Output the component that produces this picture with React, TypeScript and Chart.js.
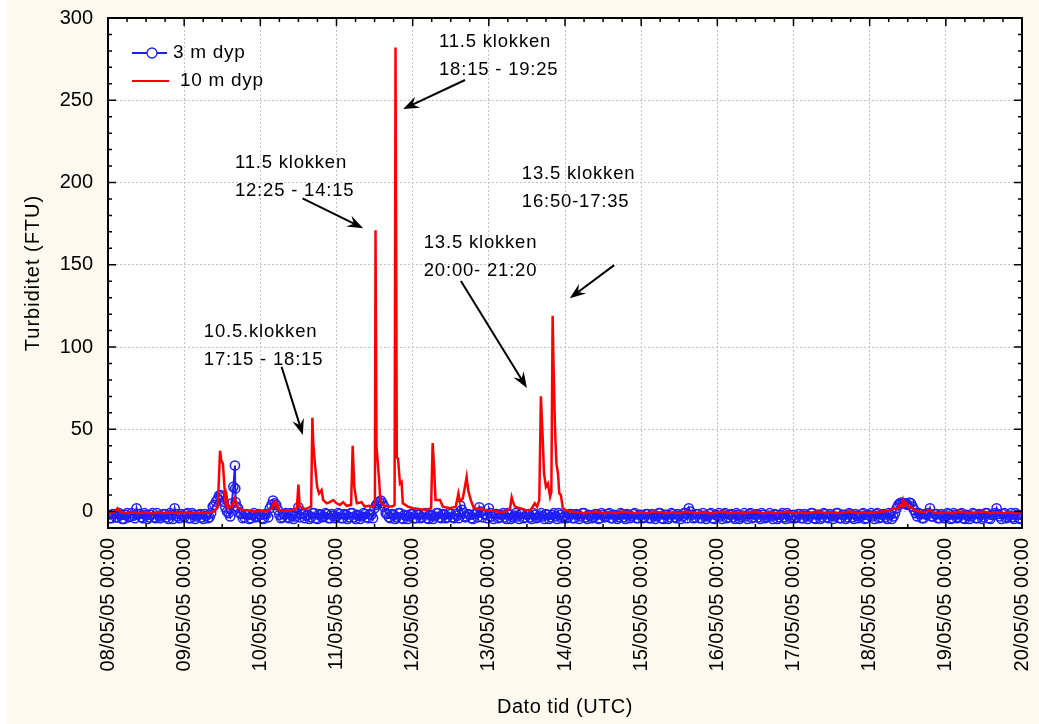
import { useEffect, useRef } from 'react';
import { Chart, registerables } from 'chart.js';

Chart.register(...registerables);

const FONT = '"Liberation Sans", Arial, Helvetica, sans-serif';

// ---------- axes ----------
const X_MIN_H = 0;
const X_MAX_H = 288; // hours after 08/05/05 00:00
const Y_MIN = -10;
const Y_MAX = 300;
const dayTickHours = [0, 24, 48, 72, 96, 120, 144, 168, 192, 216, 240, 264, 288];
const dayTickLabels = [
  '08/05/05 00:00', '09/05/05 00:00', '10/05/05 00:00', '11/05/05 00:00',
  '12/05/05 00:00', '13/05/05 00:00', '14/05/05 00:00', '15/05/05 00:00',
  '16/05/05 00:00', '17/05/05 00:00', '18/05/05 00:00', '19/05/05 00:00',
  '20/05/05 00:00',
];
const xTitle = 'Dato tid (UTC)';
const yTitle = 'Turbiditet (FTU)';
const seriesNames = ['3 m dyp', '10 m dyp'];

// ---------- 3 m dyp: readings on the full hour (h = 0 .. 288) ----------
const turb3m = [
  // 08/05
  -2, -4, -1.5, -3.5, -2, -4.5, -1, -3, -2.5, 2, -1.5, -4, -2, -3.5, -1, -4, -2.5, -3, -1.5, -4.5, -2, 2, -3, -1.5,
  // 09/05
  -3.5, -1, -4, -2, -3, -1.5, -4.5, -2.5, -3.5, 3, 6, 9.7, 8.7, 2.5, -1, 5, 28, 2, -1.5, -3.5, -2, -4, -1, -3,
  // 10/05
  -2, -4.5, -1.5, 2, 6.7, 4, -2, -3.5, -1, -4, -2.5, -3, 2.6, -1.5, -4, -2, -3.5, -1, -4.5, -2, -3, -1.5, -4, -2.5,
  // 11/05
  -3, -1.5, -4, -2, -3.5, -1, -4.5, -2.5, -3, -1.5, -4, -2, 2, 5, 6.7, 3, -1.5, -4, -2, -3.5, -1, -4.5, -2.5, -3,
  // 12/05
  -1.5, -4, -2, -3.5, -1, -4.5, -2.5, -3, -1, -4, -2, -3.5, -1.5, -4, -2.5, 3.6, -1, -3, -2, -4.5, -1.5, 2.6, -3.5, -2,
  // 13/05
  2, -3, -1.5, -4, -2, -3.5, -1, -4.5, -2.5, -3, -1.5, -4, -2, -3.5, -1, -4, -2.5, -3, -1.5, -4.5, -2, -3, -1, -4,
  // 14/05
  -2.5, -3.5, -1.5, -4, -2, -3, -1, -4.5, -2.5, -3.5, -1.5, -4, -2, -3, -1, -4, -2.5, -3.5, -1.5, -4.5, -2, -3, -1, -4,
  // 15/05
  -2, -3.5, -1.5, -4, -2.5, -3, -1, -4.5, -2, -3.5, -1.5, -4, -2.5, -3, -1, 2, -2, -3.5, -1.5, -4, -2.5, -3, -1, -4.5,
  // 16/05
  -2.5, -3, -1.5, -4, -2, -3.5, -1, -4.5, -2.5, -3, -1.5, -4, -2, -3.5, -1, -4, -2.5, -3, -1.5, -4.5, -2, -3.5, -1, -4,
  // 17/05
  -2, -3.5, -1.5, -4, -2.5, -3, -1, -4.5, -2, -3.5, -1.5, -4, -2.5, -3, -1, -4, -2, -3.5, -1.5, -4.5, -2.5, -3, -1, -4,
  // 18/05
  -2.5, -3, -1.5, -4, -2, -3.5, -1, -4.5, -1, 4, 5.5, 5, 4, 5, 1, -3, -1.5, -4, -2, 2, -3, -1.5, -4, -2.5,
  // 19/05
  -3, -1.5, -4, -2, -3.5, -1, -4.5, -2.5, -3, -1.5, -4, -2, -3.5, -1, -4.5, -2, 2, -3, -1.5, -4, -2.5, -3.5, -1, -4,
  // 20/05
  -2,
];
// ---------- 3 m dyp: readings on the half hour (h = 0.5 .. 287.5) ----------
const turb3mHalf = [
  // 08/05
  -4, -1.5, -3.5, -1, -4.5, -2, -3.5, -1, -4, -1.5, -3.5, -1, -4.5, -2, -3.5, -1, -4, -1.5, -3.5, -1, -4.5, -1.5, -4, -2.5,
  // 09/05
  -1.5, -4, -1, -4.5, -2, -3.5, -1.5, -4, -1, 4, 7.5, 10, 6, 0, -3, 15, 3, -1, -4, -1.5, -4.5, -2, -3.5, -1.5,
  // 10/05
  -4, -1.5, -3.5, 4, 5, 1, -4, -1.5, -3.5, -1, -4.5, -1, -3.5, -1, -2.5, -4.5, -1, -4, -1.5, -3.5, -1, -4, -1.5, -4,
  // 11/05
  -1, -4, -1.5, -4.5, -1, -3.5, -2, -4.5, -1, -3.5, -1.5, -4, 4, 6, 5, -1, -3.5, -1.5, -4.5, -1, -4, -2, -4.5, -1.5,
  // 12/05
  -4, -1.5, -4, -1.5, -4, -2, -4.5, -1, -3.5, -1.5, -4, -1, -3.5, -1.5, -4, 1, -3.5, -1.5, -4, -1.5, -3.5, 0, -1.5, -4,
  // 13/05
  -1, -4.5, -1.5, -3.5, -1, -4.5, -2, -3.5, -1, -4.5, -1, -3.5, -1.5, -4.5, -2, -3.5, -1, -4.5, -2, -3.5, -1, -4.5, -2, -3.5,
  // 14/05
  -4, -1.5, -4, -1.5, -4.5, -1, -3.5, -2, -4, -1.5, -4.5, -1, -3.5, -1.5, -4, -2, -4.5, -1, -3.5, -1.5, -4, -1.5, -4, -2,
  // 15/05
  -4, -1.5, -4, -1.5, -4.5, -1, -4, -2, -4.5, -1, -3.5, -1.5, -4.5, -1, -4, 0, -4, -1.5, -4, -1, -4.5, -1.5, -4, -2,
  // 16/05
  -1, -4.5, -1, -3.5, -1.5, -4.5, -2, -3.5, -1, -4.5, -1, -3.5, -1.5, -4.5, -2, -3.5, -1, -4.5, -2, -3.5, -1, -4.5, -2, -3.5,
  // 17/05
  -4, -1.5, -4, -1.5, -4.5, -1, -4, -2, -4.5, -1, -3.5, -1.5, -4.5, -1, -4, -2, -4.5, -1, -3.5, -1.5, -4, -1.5, -4.5, -2,
  // 18/05
  -1, -4.5, -1, -3.5, -1.5, -4.5, -2, -3, 2, 5, 5, 4.5, 5.5, 3, -1, -1, -4, -1.5, -1, -3, -1.5, -4, -1.5, -4,
  // 19/05
  -1, -4.5, -1, -4, -1.5, -4, -2, -4.5, -1, -4, -1.5, -4.5, -1, -4, -2, -1, -1.5, -4.5, -1, -3.5, -1, -4.5, -2, -4.5,
];
// extra (sub-half-hour) 3 m readings on 09/05 afternoon
const turb3mExtraHours = [40.1, 40.2];
const turb3mExtraValues = [14, 5.7];

// ---------- 10 m dyp: [hours, FTU] ----------
const turb10m: [number, number][] = [
  [0, -1], [2, -0.5], [3, 2], [4, -0.5], [6, -1], [8, -0.5], [10, -1], [12, -0.5], [14, -1], [16, -0.5],
  [18, -1], [20, -0.5], [22, -1], [24, -0.5], [26, -1], [28, -0.5], [30, -1], [32, -0.5], [33.5, 0],
  [34.6, 3], [35.3, 37], [35.7, 31], [36.2, 29], [36.7, 15], [37.1, 5], [37.4, 9], [37.9, 2], [39.1, 3],
  [40, 8], [40.5, 3], [42.2, 1], [44.7, 0.5], [46, 0], [48, 0.5],
  [50, 0], [51.7, 2], [52.3, 5.7], [52.9, 3], [53.2, 5], [53.9, 1], [55.5, 0.5], [57.3, 0.5], [59.5, 2],
  [60, 16.4], [60.4, 3], [62.1, 1.5], [64, 3], [64.4, 57], [64.7, 41], [65.2, 29], [65.9, 15], [66.5, 11],
  [67.3, 13], [67.8, 7], [68.9, 5], [69.9, 5.7], [71, 7], [72, 5],
  [73, 4], [74.1, 5.7], [75.2, 3.5], [76.6, 4], [77.1, 40], [77.6, 15], [78.4, 5], [79.9, 5.7], [80.9, 3],
  [82.2, 3.5], [83.6, 3], [84.1, 5], [84.3, 171], [84.6, 40], [84.9, 32], [85.4, 20], [85.8, 7], [86.6, 4],
  [88.2, 3], [89.5, 3], [90.3, 4], [90.6, 282], [91.0, 33], [91.4, 32], [92.0, 17], [92.5, 18], [92.9, 5],
  [94.5, 3], [96.1, 2],
  [98, 1.5], [99.9, 1], [101.8, 2], [102.3, 41.6], [102.8, 25], [103.2, 7], [104.6, 7], [105.5, 3],
  [107.8, 2], [109.6, 3], [110.4, 11], [110.9, 6], [111.8, 8], [113, 21], [113.5, 13], [114.3, 7],
  [115.3, 2], [117, 1.5], [118.8, 1], [120, 0.5],
  [121.9, 0.5], [123.5, -0.5], [125.1, 0], [126.7, 2], [127.2, 8.7], [127.6, 6], [128.2, 3], [129.8, 2],
  [131.5, 1], [133, 0.5], [134.5, 5], [135.2, 3], [135.9, 7], [136.4, 70], [136.9, 48], [137.4, 23],
  [138, 15], [138.6, 17], [139.3, 9], [139.7, 12], [140.1, 119], [140.4, 88], [140.8, 55], [141, 43],
  [141.3, 29], [141.8, 23], [142.2, 11], [142.7, 10], [143.3, 2], [144.6, 0.5],
  [146, 0], [148, -0.5], [150, -1], [152, -0.5], [154, 0], [156, -1], [158, -0.5], [160, -1], [162, 0],
  [164, -0.5], [166, -1], [168, -0.5], [170, -1], [172, 0], [174, -0.5], [176, -1], [178, -0.5], [180, -1],
  [182, 0], [184, -0.5], [186, -1], [188, -0.5], [190, -1], [192, -0.5], [194, 0], [196, -1], [198, -0.5],
  [200, -1], [202, -0.5], [204, 0], [206, -1], [208, -0.5], [210, -1], [212, -0.5], [214, 0], [216, -1],
  [218, -0.5], [220, -1], [222, -0.5], [224, 0], [226, -1], [228, -0.5], [230, -1], [232, -0.5], [234, 0],
  [236, -1], [238, -0.5], [240, -1], [242, -0.5], [244, 0], [246, 0.5], [247.5, 2], [248.5, 1.5],
  [249.5, 4], [250.3, 3], [250.6, 6.7], [251, 4], [251.6, 5], [252.3, 2.5], [253, 3], [254, 1], [255.5, 0],
  [257, -0.5], [259, 1], [260, -0.5], [262, -1], [264, -0.5], [266, -1], [268, 0], [270, -0.5], [272, -1],
  [274, -0.5], [276, 0], [278, -1], [280, -0.5], [282, -1], [284, -0.5], [286, -1], [288, -0.5],
];

// ---------- annotations (data coordinates: hours, FTU) ----------
const noteLines = [
  ['11.5 klokken', '18:15 - 19:25'],
  ['11.5 klokken', '12:25 - 14:15'],
  ['13.5 klokken', '16:50-17:35'],
  ['13.5 klokken', '20:00- 21:20'],
  ['10.5.klokken', '17:15 - 18:15'],
];
const noteAnchors: [number, number][] = [
  [104.3, 285.4], [40, 211.7], [130.4, 205.2], [99.5, 163.2], [30.2, 109.3],
];
const arrowFrom: [number, number][] = [
  [112.5, 262.3], [61.3, 190.4], [159.5, 149.8], [111.2, 140.1], [54.7, 88.0],
];
const arrowTo: [number, number][] = [
  [93.0, 244.7], [80.4, 172.2], [145.5, 129.6], [132.0, 75.1], [61.4, 46.5],
];

const BLUE = '#1e1ef5';
const RED = '#ff0000';
const CREAM = '#fdf9ee';

function drawArrow(ctx: CanvasRenderingContext2D, x1: number, y1: number, x2: number, y2: number) {
  const ang = Math.atan2(y2 - y1, x2 - x1);
  const L = 16;
  const W = 6;
  const c = Math.cos(ang);
  const s = Math.sin(ang);
  const bx = x2 - L * c;
  const by = y2 - L * s;
  ctx.beginPath();
  ctx.moveTo(x1, y1);
  ctx.lineTo(x2 - 8 * c, y2 - 8 * s);
  ctx.stroke();
  ctx.beginPath();
  ctx.moveTo(x2, y2);
  ctx.lineTo(bx + W * s, by - W * c);
  ctx.lineTo(x2 - 0.65 * L * c, y2 - 0.65 * L * s);
  ctx.lineTo(bx - W * s, by + W * c);
  ctx.closePath();
  ctx.fill();
}

const decorPlugin = {
  id: 'decor',
  beforeDraw(chart: any) {
    const { ctx, chartArea: a, width, height } = chart;
    ctx.save();
    ctx.fillStyle = CREAM;
    ctx.fillRect(0, 0, width, height);
    ctx.fillStyle = '#ffffff';
    ctx.fillRect(a.left, a.top, a.right - a.left, a.bottom - a.top);
    ctx.restore();
  },
  afterDraw(chart: any) {
    const { ctx, chartArea: a, scales } = chart;
    const x = scales.x;
    const y = scales.y;
    ctx.save();
    // frame
    ctx.strokeStyle = '#000';
    ctx.lineWidth = 2;
    ctx.strokeRect(a.left, a.top, a.right - a.left, a.bottom - a.top);
    // tick marks (inward)
    ctx.lineWidth = 1.5;
    ctx.beginPath();
    for (let h = X_MIN_H; h <= X_MAX_H; h += 6) {
      const px = x.getPixelForValue(h);
      const major = h % 24 === 0;
      ctx.moveTo(px, a.top);
      ctx.lineTo(px, a.top + (major ? 8 : 4));
      if (h % 12 === 0) {
        ctx.moveTo(px, a.bottom);
        ctx.lineTo(px, a.bottom - (major ? 8 : 4));
      }
    }
    for (let v = Y_MIN; v <= Y_MAX; v += 10) {
      const py = y.getPixelForValue(v);
      const len = v % 50 === 0 ? 8 : 4;
      ctx.moveTo(a.left, py);
      ctx.lineTo(a.left + len, py);
      ctx.moveTo(a.right, py);
      ctx.lineTo(a.right - len, py);
    }
    ctx.stroke();

    // legend
    const lx = a.left + 24;
    const ly1 = a.top + 35;
    const ly2 = a.top + 63;
    ctx.lineWidth = 2;
    ctx.strokeStyle = BLUE;
    ctx.beginPath();
    ctx.moveTo(lx, ly1);
    ctx.lineTo(lx + 35, ly1);
    ctx.stroke();
    ctx.beginPath();
    ctx.arc(lx + 20, ly1, 5, 0, Math.PI * 2);
    ctx.fillStyle = '#ffffff';
    ctx.fill();
    ctx.lineWidth = 1.3;
    ctx.stroke();
    ctx.lineWidth = 2;
    ctx.strokeStyle = RED;
    ctx.beginPath();
    ctx.moveTo(lx, ly2);
    ctx.lineTo(lx + 37, ly2);
    ctx.stroke();
    ctx.fillStyle = '#000';
    ctx.font = `19px ${FONT}`;
    ctx.textBaseline = 'middle';
    ctx.textAlign = 'left';
    (ctx as any).letterSpacing = '0.7px';
    ctx.fillText(seriesNames[0], lx + 41, ly1);
    ctx.fillText(seriesNames[1], lx + 48, ly2);

    // annotations
    (ctx as any).letterSpacing = '0.8px';
    ctx.font = `18.5px ${FONT}`;
    noteLines.forEach((lines, i) => {
      const tx = x.getPixelForValue(noteAnchors[i][0]);
      const ty = y.getPixelForValue(noteAnchors[i][1]);
      lines.forEach((t, j) => ctx.fillText(t, tx, ty + j * 28));
    });
    ctx.strokeStyle = '#000';
    ctx.fillStyle = '#000';
    ctx.lineWidth = 2;
    arrowFrom.forEach((f, i) => {
      drawArrow(
        ctx,
        x.getPixelForValue(f[0]), y.getPixelForValue(f[1]),
        x.getPixelForValue(arrowTo[i][0]), y.getPixelForValue(arrowTo[i][1]),
      );
    });

    // axis titles
    (ctx as any).letterSpacing = '0.5px';
    ctx.font = `20px ${FONT}`;
    ctx.textAlign = 'center';
    ctx.fillText(xTitle, (a.left + a.right) / 2, 707);
    (ctx as any).letterSpacing = '1px';
    ctx.translate(26, (a.top + a.bottom) / 2);
    ctx.rotate(-Math.PI / 2);
    ctx.fillText(yTitle, 0, 0);
    ctx.restore();
  },
};

export default function App() {
  const ref = useRef<HTMLCanvasElement | null>(null);
  useEffect(() => {
    if (!ref.current) return;
    const blueData = turb3m
      .map((v, i) => ({ x: i, y: v }))
      .concat(turb3mHalf.map((v, i) => ({ x: i + 0.5, y: v })))
      .concat(turb3mExtraHours.map((h, i) => ({ x: h, y: turb3mExtraValues[i] })))
      .sort((p, q) => p.x - q.x);
    const redData = turb10m.map(([h, v]) => ({ x: h, y: v }));
    const chart = new Chart(ref.current, {
      type: 'line',
      data: {
        datasets: [
          {
            label: seriesNames[1],
            data: redData,
            borderColor: RED,
            borderWidth: 2.5,
            pointRadius: 0,
            tension: 0,
          },
          {
            label: seriesNames[0],
            data: blueData,
            borderColor: BLUE,
            borderWidth: 2,
            pointRadius: 4.6,
            pointBorderWidth: 1.5,
            pointBorderColor: BLUE,
            pointBackgroundColor: 'rgba(255,255,255,0)',
            tension: 0,
          },
        ],
      },
      options: {
        responsive: false,
        animation: false,
        devicePixelRatio: 1,
        layout: { padding: { top: 18, right: 17, left: 0, bottom: 0 } },
        plugins: { legend: { display: false }, tooltip: { enabled: false } },
        scales: {
          x: {
            type: 'linear',
            min: X_MIN_H,
            max: X_MAX_H,
            afterFit: (s: any) => {
              s.height = 196;
              s.paddingLeft = 0;
              s.paddingRight = 0;
            },
            ticks: {
              stepSize: 24,
              autoSkip: false,
              minRotation: 90,
              maxRotation: 90,
              padding: 10,
              color: '#000',
              font: { family: FONT, size: 20 },
              callback: (v: any) => {
                const i = dayTickHours.indexOf(Number(v));
                return i >= 0 ? dayTickLabels[i] : '';
              },
            },
            grid: { color: '#c4c4c4', lineWidth: 1, drawTicks: false },
            border: { display: false, dash: [2, 2] },
          },
          y: {
            min: Y_MIN,
            max: Y_MAX,
            afterFit: (s: any) => {
              s.width = 101;
              s.paddingTop = 0;
              s.paddingBottom = 0;
            },
            ticks: {
              stepSize: 50,
              includeBounds: false,
              padding: 15,
              color: '#000',
              font: { family: FONT, size: 20 },
              callback: (v: any) => (Number(v) % 50 === 0 ? String(v) : ''),
            },
            grid: {
              color: (c: any) => (c.tick && c.tick.value % 50 === 0 ? '#c4c4c4' : 'rgba(0,0,0,0)'),
              lineWidth: 1,
              drawTicks: false,
            },
            border: { display: false, dash: [2, 2] },
          },
        },
      },
      plugins: [decorPlugin],
    });
    return () => chart.destroy();
  }, []);
  return (
    <div style={{ position: 'absolute', left: 7, top: 0, width: 1032, height: 724, background: CREAM }}>
      <canvas ref={ref} width={1032} height={724} style={{ display: 'block' }} />
    </div>
  );
}
